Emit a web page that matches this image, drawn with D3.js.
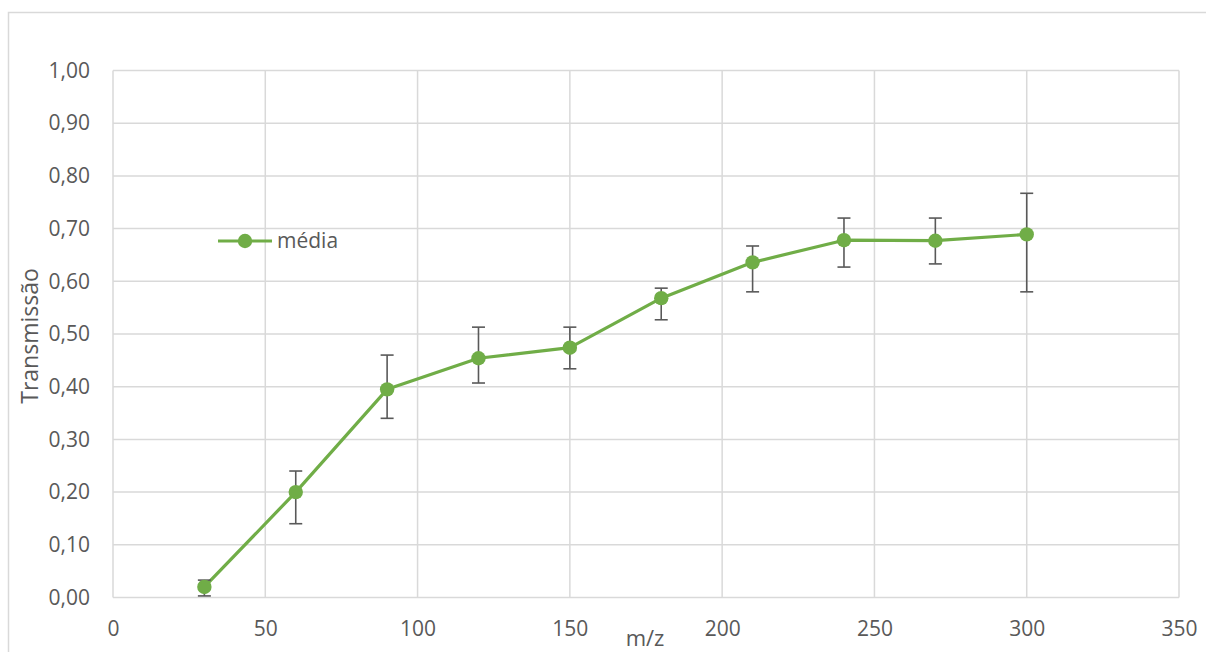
<!DOCTYPE html>
<html>
<head>
<meta charset="utf-8">
<script src="https://cdn.jsdelivr.net/npm/d3@7"></script>
<style>
  html, body { margin: 0; padding: 0; background: #fff; }
  svg { display: block; }
  text { font-family: "Open Sans", "Noto Sans", sans-serif; fill: #595959; }
</style>
</head>
<body>
<svg id="chart" width="1206" height="652"></svg>
<script>
// m/z values and mean transmission, with upper / lower error-bar ends
const mz        = [30, 60, 90, 120, 150, 180, 210, 240, 270, 300];
const media     = [0.02, 0.20, 0.395, 0.454, 0.474, 0.568, 0.636, 0.678, 0.677, 0.689];
const errUpper  = [0.033, 0.24, 0.46, 0.513, 0.513, 0.587, 0.667, 0.72, 0.72, 0.767];
const errLower  = [0.003, 0.14, 0.34, 0.407, 0.434, 0.527, 0.58, 0.627, 0.633, 0.58];
const xTicks    = [0, 50, 100, 150, 200, 250, 300, 350];
const yTicks    = [0, 0.1, 0.2, 0.3, 0.4, 0.5, 0.6, 0.7, 0.8, 0.9, 1.0];
const seriesName = "média";

const svg = d3.select("#chart");
const green = "#70ad47";
const grid = "#d9d9d9";

// chart area border
svg.append("rect")
  .attr("x", 8.5).attr("y", 12.5)
  .attr("width", 1250).attr("height", 700)
  .attr("fill", "none").attr("stroke", grid).attr("stroke-width", 1.5);

const plot = { left: 113, right: 1179, top: 70.5, bottom: 597.5 };
const x = d3.scaleLinear().domain([0, 350]).range([plot.left, plot.right]);
const y = d3.scaleLinear().domain([0, 1]).range([plot.bottom, plot.top]);

const fmt = v => d3.format(".2f")(v).replace(".", ",");

// gridlines
svg.append("g").selectAll("line.h").data(yTicks).join("line")
  .attr("x1", plot.left).attr("x2", plot.right)
  .attr("y1", d => y(d)).attr("y2", d => y(d))
  .attr("stroke", grid).attr("stroke-width", 1.5);
svg.append("g").selectAll("line.v").data(xTicks).join("line")
  .attr("x1", d => x(d)).attr("x2", d => x(d))
  .attr("y1", plot.top).attr("y2", plot.bottom)
  .attr("stroke", grid).attr("stroke-width", 1.5);

// axes (labels only)
const yAxis = svg.append("g")
  .attr("transform", `translate(${plot.left},0)`)
  .call(d3.axisLeft(y).tickValues(yTicks).tickFormat(fmt).tickSize(0).tickPadding(23));
yAxis.select(".domain").remove();
yAxis.selectAll("text").style("font-size", "21px").attr("fill", "#595959");

const xAxis = svg.append("g")
  .attr("transform", `translate(0,${plot.bottom})`)
  .call(d3.axisBottom(x).tickValues(xTicks).tickFormat(d3.format("d")).tickSize(0));
xAxis.select(".domain").remove();
xAxis.selectAll("text").style("font-size", "21px").attr("fill", "#595959")
  .attr("y", 38.5).attr("dy", 0);

// axis titles
svg.append("text")
  .attr("x", 645).attr("y", 646)
  .attr("text-anchor", "middle")
  .style("font-size", "22px")
  .text("m/z");
svg.append("text")
  .attr("transform", `translate(38,336) rotate(-90)`)
  .attr("text-anchor", "middle")
  .style("font-size", "23px")
  .text("Transmissão");

const data = mz.map((m, i) => ({ m, v: media[i], hi: errUpper[i], lo: errLower[i] }));

// series line
svg.append("path")
  .datum(data)
  .attr("fill", "none")
  .attr("stroke", green)
  .attr("stroke-width", 3.2)
  .attr("stroke-linejoin", "round")
  .attr("d", d3.line().x(d => x(d.m)).y(d => y(d.v)));

// error bars
const eb = svg.append("g").attr("stroke", "#595959").attr("stroke-width", 1.6);
eb.selectAll("line.stem").data(data).join("line")
  .attr("x1", d => x(d.m)).attr("x2", d => x(d.m))
  .attr("y1", d => y(d.hi)).attr("y2", d => y(d.lo));
eb.selectAll("line.capHi").data(data).join("line")
  .attr("x1", d => x(d.m) - 6.5).attr("x2", d => x(d.m) + 6.5)
  .attr("y1", d => y(d.hi)).attr("y2", d => y(d.hi));
eb.selectAll("line.capLo").data(data).join("line")
  .attr("x1", d => x(d.m) - 6.5).attr("x2", d => x(d.m) + 6.5)
  .attr("y1", d => y(d.lo)).attr("y2", d => y(d.lo));

// markers
svg.append("g").selectAll("circle").data(data).join("circle")
  .attr("cx", d => x(d.m)).attr("cy", d => y(d.v))
  .attr("r", 7.2)
  .attr("fill", green);

// legend
const lg = svg.append("g").attr("transform", "translate(218,241)");
lg.append("line").attr("x1", 0).attr("x2", 54).attr("y1", 0).attr("y2", 0)
  .attr("stroke", green).attr("stroke-width", 3.2);
lg.append("circle").attr("cx", 27).attr("cy", 0).attr("r", 7.2).attr("fill", green);
lg.append("text").attr("x", 59).attr("y", 0).attr("dy", "0.35em")
  .style("font-size", "21px").text(seriesName);
</script>
</body>
</html>
